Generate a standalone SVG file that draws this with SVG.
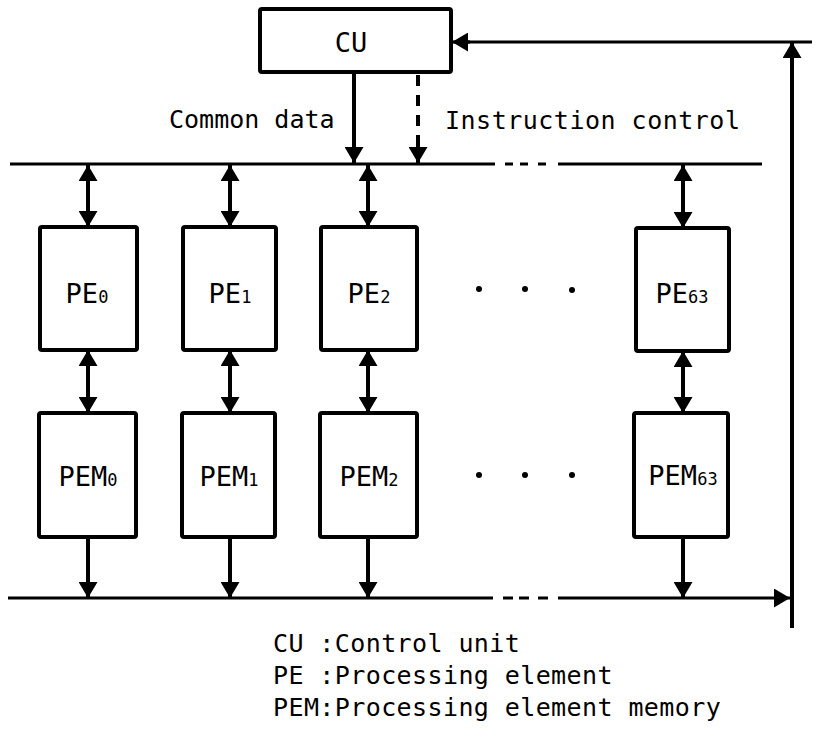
<svg xmlns="http://www.w3.org/2000/svg" width="817" height="735" viewBox="0 0 817 735">
  <style>
    .box { fill: #fff; stroke: #000; stroke-width: 4; }
    .bus { fill: none; stroke: #000; stroke-width: 3.2; }
    .wire { fill: none; stroke: #000; stroke-width: 4; }
    .dash { stroke-dasharray: 11 9; }
    .txt { font-family: "DejaVu Sans Mono", "Liberation Mono", monospace; font-size: 25px; fill: #000; }
    .lbl { font-family: "DejaVu Sans Mono", "Liberation Mono", monospace; font-size: 27px; fill: #000; text-anchor: middle; }
    .sub { font-size: 17px; }
    .two { marker-start: url(#head); marker-end: url(#head); }
    .one { marker-end: url(#head); }
  </style>
  <defs>
    <marker id="head" viewBox="0 0 16 19" refX="16" refY="9.5" markerWidth="16" markerHeight="19" markerUnits="userSpaceOnUse" orient="auto-start-reverse">
      <path d="M0,0 L16,9.5 L0,19 Z" fill="#000"/>
    </marker>
  </defs>

  <rect width="817" height="735" fill="#fff"/>

  <!-- buses and links -->
  <g id="connectors">
    <!-- upper bus -->
    <path class="bus" d="M10,164 H495 M558,164 H762"/>
    <path class="bus" d="M505,164 H513 M520,164 H528 M538,164 H546"/>
    <!-- lower bus with arrow into the feedback line -->
    <path class="bus" d="M503,598 H513 M519,598 H529 M538,598 H548"/>
    <path class="bus" d="M8,598 H493"/>
    <line class="bus one" x1="558" y1="598" x2="790" y2="598"/>
    <!-- feedback path to CU -->
    <line class="wire one" x1="792" y1="628" x2="792" y2="42"/>
    <line class="bus" x1="812" y1="42" x2="466" y2="42"/>
    <line class="bus one" x1="470" y1="42" x2="452" y2="42"/>
    <!-- CU outputs -->
    <line class="wire one" x1="354" y1="73" x2="354" y2="163"/>
    <line class="wire dash" x1="418" y1="75" x2="418" y2="150"/>
    <line class="wire one" x1="418" y1="146" x2="418" y2="163"/>
    <!-- bus to PE -->
    <line class="wire two" x1="88" y1="165" x2="88" y2="227"/>
    <line class="wire two" x1="230" y1="165" x2="230" y2="227"/>
    <line class="wire two" x1="368" y1="165" x2="368" y2="227"/>
    <line class="wire two" x1="683" y1="165" x2="683" y2="228"/>
    <!-- PE to PEM -->
    <line class="wire two" x1="88" y1="350" x2="88" y2="413"/>
    <line class="wire two" x1="230" y1="350" x2="230" y2="413"/>
    <line class="wire two" x1="368" y1="350" x2="368" y2="413"/>
    <line class="wire two" x1="683" y1="351" x2="683" y2="413"/>
    <!-- PEM to lower bus -->
    <line class="wire one" x1="88" y1="537" x2="88" y2="598"/>
    <line class="wire one" x1="230" y1="537" x2="230" y2="598"/>
    <line class="wire one" x1="368" y1="537" x2="368" y2="598"/>
    <line class="wire one" x1="683" y1="537" x2="683" y2="598"/>
  </g>

  <g id="cu">
    <rect class="box" x="260" y="9" width="191" height="63" rx="2"/>
    <text class="lbl" x="351" y="52">CU</text>
  </g>

  <g id="pe0">
    <rect class="box" x="40" y="227" width="97" height="123" rx="2"/>
    <text class="lbl" x="87" y="303">PE<tspan class="sub">0</tspan></text>
  </g>
  <g id="pe1">
    <rect class="box" x="183" y="227" width="93" height="123" rx="2"/>
    <text class="lbl" x="230" y="303">PE<tspan class="sub">1</tspan></text>
  </g>
  <g id="pe2">
    <rect class="box" x="321" y="227" width="96" height="123" rx="2"/>
    <text class="lbl" x="369" y="303">PE<tspan class="sub">2</tspan></text>
  </g>
  <g id="pe63">
    <rect class="box" x="636" y="228" width="93" height="123" rx="2"/>
    <text class="lbl" x="682" y="303">PE<tspan class="sub">63</tspan></text>
  </g>

  <g id="pem0">
    <rect class="box" x="39" y="413" width="97" height="124" rx="2"/>
    <text class="lbl" x="88" y="486">PEM<tspan class="sub">0</tspan></text>
  </g>
  <g id="pem1">
    <rect class="box" x="182" y="413" width="93" height="124" rx="2"/>
    <text class="lbl" x="229" y="486">PEM<tspan class="sub">1</tspan></text>
  </g>
  <g id="pem2">
    <rect class="box" x="320" y="413" width="97" height="124" rx="2"/>
    <text class="lbl" x="369" y="486">PEM<tspan class="sub">2</tspan></text>
  </g>
  <g id="pem63">
    <rect class="box" x="634" y="413" width="94" height="124" rx="2"/>
    <text class="lbl" x="683" y="485">PEM<tspan class="sub">63</tspan></text>
  </g>

  <!-- ellipsis between PE2 and PE63 -->
  <g id="ellipsis" fill="#000">
    <circle cx="479" cy="289" r="3"/>
    <circle cx="525" cy="289" r="3"/>
    <circle cx="572" cy="290" r="3"/>
    <circle cx="479" cy="475" r="3"/>
    <circle cx="525" cy="475" r="3"/>
    <circle cx="572" cy="475" r="3"/>
  </g>

  <g id="labels">
    <text class="txt" x="169" y="128">Common data</text>
    <text class="txt" x="445" y="129" letter-spacing="0.5">Instruction control</text>
  </g>

  <g id="legend">
    <text class="txt" x="273" y="652" letter-spacing="0.4">CU :Control unit</text>
    <text class="txt" x="273" y="684" letter-spacing="0.4">PE :Processing element</text>
    <text class="txt" x="273" y="716" letter-spacing="0.4">PEM:Processing element memory</text>
  </g>
</svg>
